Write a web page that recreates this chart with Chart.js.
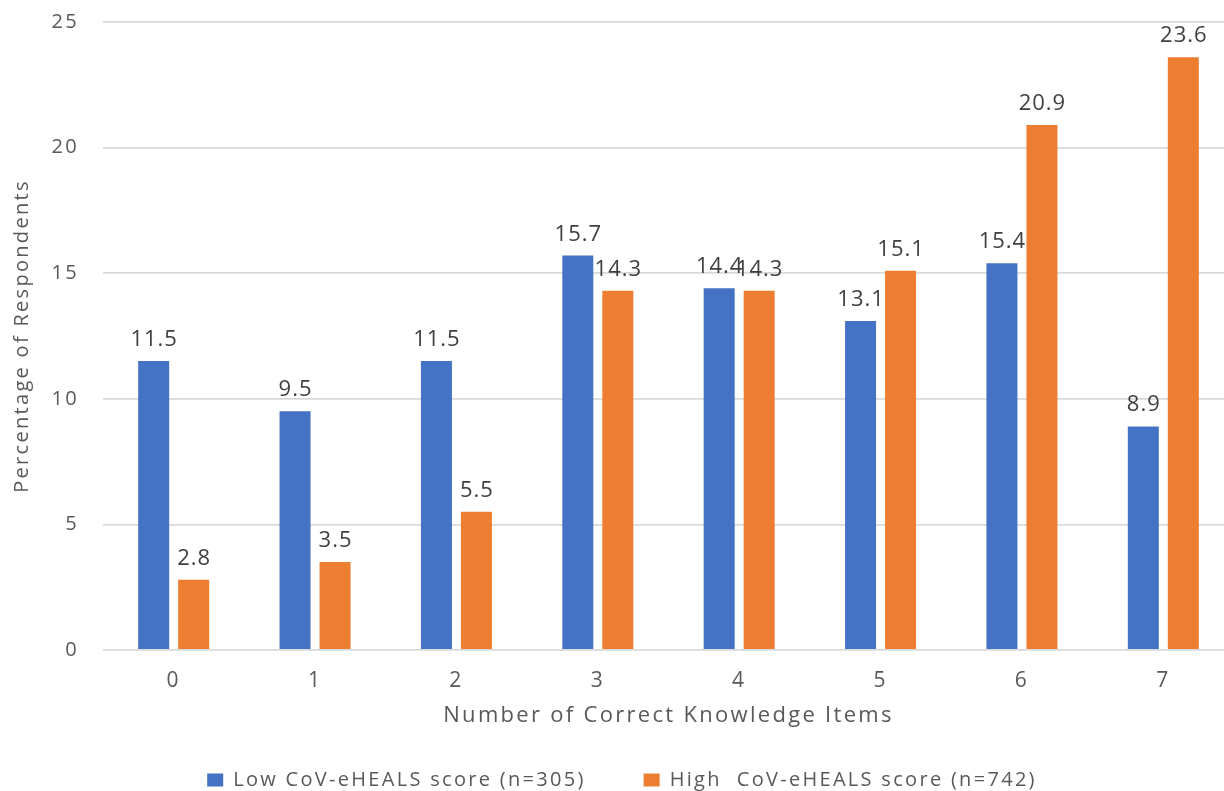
<!DOCTYPE html>
<html>
<head>
<meta charset="utf-8">
<script src="https://cdn.jsdelivr.net/npm/chart.js@4.4.0/dist/chart.umd.min.js"></script>
<style>
  html, body { margin: 0; padding: 0; background: #fff; overflow: hidden; }
  #wrap { position: relative; width: 1234px; height: 791px; }
</style>
</head>
<body>
<div id="wrap"><canvas id="c"></canvas></div>
<script>
// Share of respondents by number of correct knowledge items
const categories = ['0', '1', '2', '3', '4', '5', '6', '7'];
const lowScore  = [11.5, 9.5, 11.5, 15.7, 14.4, 13.1, 15.4, 8.9];
const highScore = [2.8, 3.5, 5.5, 14.3, 14.3, 15.1, 20.9, 23.6];
const seriesNames = ['Low CoV-eHEALS score (n=305)', 'High  CoV-eHEALS score (n=742)'];
const yTicks = [0, 5, 10, 15, 20, 25];
const xTitle = 'Number of Correct Knowledge Items';
const yTitle = 'Percentage of Respondents';

Chart.defaults.font.family = '"Open Sans", sans-serif';
Chart.defaults.color = '#595959';

// Slightly wider text tracking for axis labels, titles and legend
const tracking = {
  id: 'tracking',
  beforeUpdate(chart) { chart.ctx.letterSpacing = '2.3px'; },
  beforeDraw(chart) { chart.ctx.letterSpacing = '2.3px'; }
};

// Writes each bar's value just above it
const valueLabels = {
  id: 'valueLabels',
  afterDatasetsDraw(chart) {
    const ctx = chart.ctx;
    ctx.save();
    ctx.letterSpacing = '1px';
    ctx.font = '22px "Open Sans", sans-serif';
    ctx.fillStyle = '#404040';
    ctx.textAlign = 'center';
    ctx.textBaseline = 'alphabetic';
    chart.data.datasets.forEach((ds, i) => {
      chart.getDatasetMeta(i).data.forEach((bar, j) => {
        ctx.fillText(ds.data[j].toFixed(1), bar.x + 0.5, bar.y - 15);
      });
    });
    ctx.restore();
  }
};

new Chart(document.getElementById('c'), {
  type: 'bar',
  data: {
    labels: categories,
    datasets: [
      { label: seriesNames[0], data: lowScore, backgroundColor: '#4472C4' },
      { label: seriesNames[1], data: highScore, backgroundColor: '#ED7D31' }
    ]
  },
  options: {
    responsive: true,
    maintainAspectRatio: false,
    animation: false,
    categoryPercentage: 0.566,
    barPercentage: 0.775,
    layout: { padding: { top: 22, left: 10, right: 0, bottom: -9 } },
    plugins: {
      legend: {
        position: 'bottom',
        labels: {
          boxWidth: 16,
          boxHeight: 13,
          padding: 58,
          color: '#595959',
          font: { size: 20 }
        }
      },
      tooltip: { enabled: false }
    },
    scales: {
      x: {
        afterFit(scale) { scale.height = 62; },
        grid: { display: false, drawTicks: false },
        border: { display: false },
        ticks: { font: { size: 21 }, padding: 18 },
        title: { display: true, text: xTitle, font: { size: 22 }, color: '#595959', padding: { top: 0, bottom: -17 } }
      },
      y: {
        min: 0,
        max: 25,
        afterBuildTicks(scale) { scale.ticks = yTicks.map(v => ({ value: v })); },
        afterFit(scale) { scale.width = 93; scale.paddingTop = 0; },
        grid: { color: '#d9d9d9', lineWidth: 1.8, drawTicks: false },
        border: { display: false },
        ticks: { font: { size: 20 }, padding: 24 },
        title: { display: true, text: yTitle, font: { size: 20 }, color: '#595959', padding: { top: 0, bottom: 6 } }
      }
    }
  },
  plugins: [tracking, valueLabels]
});
</script>
</body>
</html>
